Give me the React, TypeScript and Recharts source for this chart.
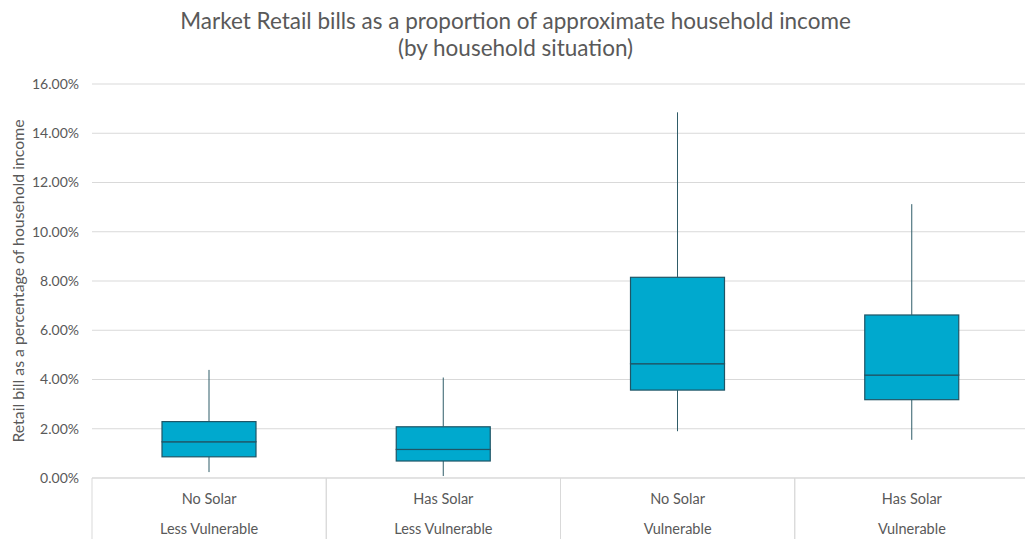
import React from "react";
import { ComposedChart, Bar, XAxis, YAxis, CartesianGrid } from "recharts";

const solar = ["No Solar", "Has Solar", "No Solar", "Has Solar"];
const situation = ["Less Vulnerable", "Less Vulnerable", "Vulnerable", "Vulnerable"];

// values in percent of household income
const minValues = [0.24, 0.08, 1.9, 1.55];
const q1Values = [0.86, 0.69, 3.57, 3.18];
const medianValues = [1.47, 1.16, 4.64, 4.18];
const q3Values = [2.29, 2.08, 8.15, 6.62];
const maxValues = [4.39, 4.08, 14.85, 11.12];

const yTicks = [0, 2, 4, 6, 8, 10, 12, 14, 16];

const data = solar.map((s, i) => ({
  id: `${s}|${situation[i]}`,
  base: minValues[i],
  lowWhisker: q1Values[i] - minValues[i],
  lowBox: medianValues[i] - q1Values[i],
  highBox: q3Values[i] - medianValues[i],
  highWhisker: maxValues[i] - q3Values[i],
}));

const FONT = "Lato, 'Open Sans', sans-serif";
const TEXT = "#595959";
const GRID = "#d9d9d9";
const FILL = "#00a9ce";
const EDGE = "#1f5566";

function Whisker(props: any) {
  const { x, y, width, height } = props;
  const cx = x + width / 2;
  return <line x1={cx} y1={y} x2={cx} y2={y + height} stroke="#2f5c68" strokeWidth={1} />;
}

function BoxPart(props: any) {
  const { x, y, width, height } = props;
  return <rect x={x} y={y} width={width} height={height} fill={FILL} stroke={EDGE} strokeWidth={1.2} />;
}

function CategoryTick(props: any) {
  const { x, y, payload } = props;
  const [top, bottom] = String(payload.value).split("|");
  const half = payload.offset ?? 0;
  return (
    <g>
      <line x1={x - half} y1={y} x2={x - half} y2={y + 61} stroke={GRID} />
      <line x1={x + half} y1={y} x2={x + half} y2={y + 61} stroke={GRID} />
      <text x={x} y={y + 26} textAnchor="middle" fill={TEXT} fontSize={14.5} fontFamily={FONT}>
        {top}
      </text>
      <text x={x} y={y + 56} textAnchor="middle" fill={TEXT} fontSize={14.5} fontFamily={FONT}>
        {bottom}
      </text>
    </g>
  );
}

export default function App() {
  return (
    <div
      style={{
        position: "absolute",
        left: 0,
        top: 0,
        width: 1025,
        height: 539,
        overflow: "hidden",
        background: "#fff",
        fontFamily: FONT,
      }}
    >
      <div
        style={{
          position: "absolute",
          top: 7,
          left: 3,
          width: 1025,
          textAlign: "center",
          color: TEXT,
          fontSize: 22.5,
          lineHeight: "27px",
        }}
      >
        Market Retail bills as a proportion of approximate household income
        <br />
        (by household situation)
      </div>
      <ComposedChart
        width={1032}
        height={539}
        data={data}
        margin={{ top: 84, right: 3, bottom: 0, left: 0 }}
      >
        <CartesianGrid vertical={false} stroke={GRID} />
        <XAxis
          dataKey="id"
          height={61}
          axisLine={{ stroke: GRID }}
          tickLine={false}
          tickSize={0}
          tickMargin={0}
          tick={<CategoryTick />}
          interval={0}
        />
        <YAxis
          width={92}
          domain={[0, 16]}
          ticks={yTicks}
          axisLine={false}
          tickLine={false}
          tickSize={0}
          tickMargin={13}
          tickFormatter={(v: number) => `${v.toFixed(2)}%`}
          tick={{ fill: TEXT, fontSize: 14, fontFamily: FONT }}
          label={{
            value: "Retail bill as a percentage of household income",
            angle: -90,
            position: "insideLeft",
            offset: 18,
            style: { textAnchor: "middle", fill: TEXT, fontSize: 15.8, fontFamily: FONT },
          }}
        />
        <Bar dataKey="base" stackId="box" fill="none" barSize={94} isAnimationActive={false} />
        <Bar dataKey="lowWhisker" stackId="box" shape={<Whisker />} barSize={94} isAnimationActive={false} />
        <Bar dataKey="lowBox" stackId="box" shape={<BoxPart />} barSize={94} isAnimationActive={false} />
        <Bar dataKey="highBox" stackId="box" shape={<BoxPart />} barSize={94} isAnimationActive={false} />
        <Bar dataKey="highWhisker" stackId="box" shape={<Whisker />} barSize={94} isAnimationActive={false} />
      </ComposedChart>
    </div>
  );
}
